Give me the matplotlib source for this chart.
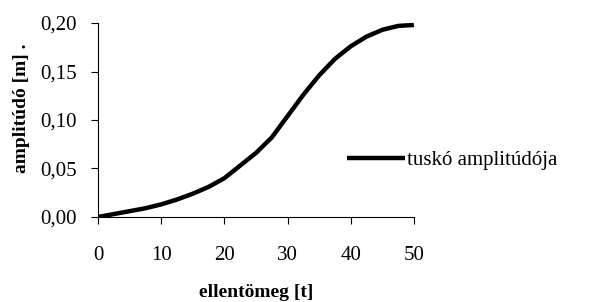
import matplotlib.pyplot as plt

# data
mass = [0, 2.5, 5, 7.5, 10, 12.5, 15, 17.5, 20, 22.5, 25, 27.5, 30, 32.5, 35, 37.5, 40, 42.5, 45, 47.5, 50]
amp = [0.000, 0.003, 0.006, 0.009, 0.013, 0.018, 0.024, 0.031, 0.040, 0.053, 0.066, 0.082, 0.104, 0.126, 0.146, 0.163, 0.176, 0.186, 0.193, 0.197, 0.198]

plt.rcParams['font.family'] = ['Liberation Serif']

fig = plt.figure(figsize=(5.99, 3.02), dpi=100)
ax = fig.add_axes([0.1636, 0.2815, 0.5274, 0.6423])
ax.plot(mass, amp, color="black", linewidth=3.2, label="tuskó amplitúdója",
        solid_capstyle="butt")

ax.set_xlim(0, 50)
ax.set_ylim(0, 0.20)
ax.set_xticks([0, 10, 20, 30, 40, 50])
ax.set_yticks([0, 0.05, 0.10, 0.15, 0.20])
ax.set_yticklabels(["0,00", "0,05", "0,10", "0,15", "0,20"])
ax.tick_params(labelsize=15, length=5, width=0.8, direction="out")
ax.tick_params(axis="x", pad=16)
ax.tick_params(axis="y", pad=10)
for s in ["top", "right"]:
    ax.spines[s].set_visible(False)

ax.set_xlabel("ellentömeg [t]", fontsize=14, fontweight="bold")
ax.xaxis.set_label_coords(0.5, -0.345)
ax.set_ylabel("amplitúdó [m] .", fontsize=14, fontweight="bold")
ax.yaxis.set_label_coords(-0.215, 0.56)

fig.legend(loc="center left", bbox_to_anchor=(0.548, 0.47), frameon=False,
           fontsize=15, handlelength=2.8, handletextpad=0.1)

fig.savefig("out.png", dpi=100)
